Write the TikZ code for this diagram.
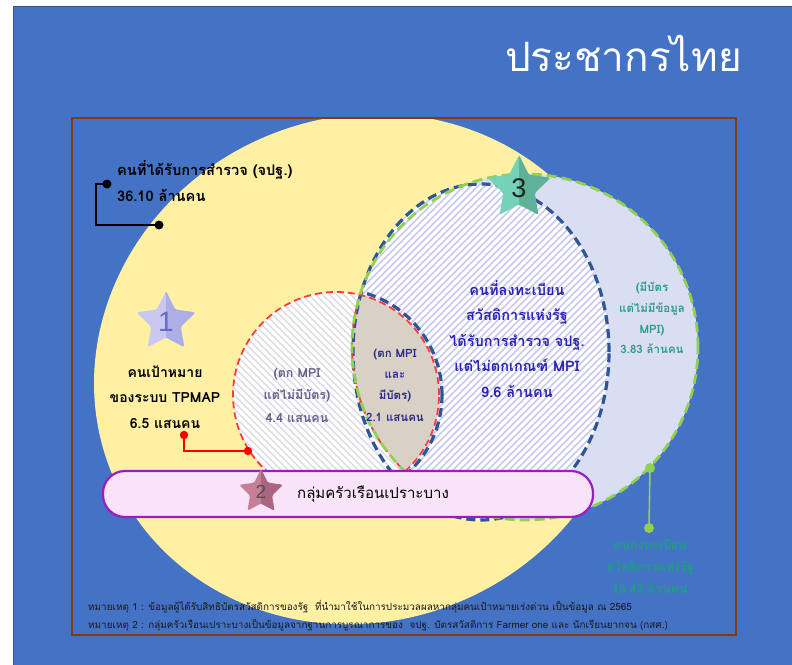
\documentclass[tikz,border=0pt]{standalone}
\usepackage{fontspec}
\newfontfamily\thai[Script=Thai]{Loma}
\newfontfamily\digitfont{Liberation Sans}
\usetikzlibrary{calc}
\definecolor{bgblue}{HTML}{4472C4}
\definecolor{bgborder}{HTML}{2F5597}
\definecolor{framec}{HTML}{843C0C}
\definecolor{yel}{HTML}{FFF0A4}
\definecolor{lav}{HTML}{D9DEF2}
\definecolor{stripeB}{HTML}{C7C9F0}
\definecolor{stripeR}{HTML}{D8D8E4}
\definecolor{lensc}{HTML}{D9D0C6}
\definecolor{bluedashc}{HTML}{2F5597}
\definecolor{reddashc}{HTML}{FF3B3B}
\definecolor{greendashc}{HTML}{92D050}
\definecolor{barborder}{HTML}{9C1BC2}
\definecolor{barfill}{HTML}{F8E3F8}
\definecolor{navytxt}{HTML}{2C22B5}
\definecolor{lenstxt}{HTML}{2B2B8A}
\definecolor{greytxt}{HTML}{62628A}
\definecolor{tealtxt}{HTML}{2E9C8C}
\definecolor{greentxt}{HTML}{1E9E82}
\definecolor{sonelight}{HTML}{C8C8F2}
\definecolor{sonedark}{HTML}{AEAEE6}
\definecolor{sthreelight}{HTML}{74D2B8}
\definecolor{sthreedark}{HTML}{5FB29A}
\definecolor{stwolight}{HTML}{C57F97}
\definecolor{stwodark}{HTML}{A9667E}
\tikzset{
  lbl/.style={font=\thai\bfseries\fontsize{14}{25.5}\selectfont, align=center, inner sep=0pt},
  smalllbl/.style={font=\thai\bfseries\fontsize{12}{21.5}\selectfont, align=center, inner sep=0pt},
  note/.style={font=\thai\fontsize{9.9}{12}\selectfont, anchor=west, inner sep=0pt, text=black!90},
  bluedash/.style={draw=bluedashc, line width=3.2pt, dash pattern=on 9pt off 5pt},
  reddash/.style={draw=reddashc, line width=1.8pt, dash pattern=on 7pt off 4pt},
  greendash/.style={draw=greendashc, line width=2.8pt, dash pattern=on 10pt off 5pt},
  stripeb/.style={draw=stripeB, line width=1.6pt},
  striper/.style={draw=stripeR, line width=1.4pt},
}
\newcommand\mystar[8]{%
  \begin{scope}[shift={(#1,#2)}]
    \fill[#4, rounded corners=1.5pt] (90:#3pt) -- (126:{#3*0.5pt}) -- (162:#3pt) -- (198:{#3*0.5pt}) -- (234:#3pt) -- (270:{#3*0.5pt}) -- (306:#3pt) -- (342:{#3*0.5pt}) -- (18:#3pt) -- (54:{#3*0.5pt}) -- cycle;
    \begin{scope}
      \clip[rounded corners=1.5pt] (90:#3pt) -- (126:{#3*0.5pt}) -- (162:#3pt) -- (198:{#3*0.5pt}) -- (234:#3pt) -- (270:{#3*0.5pt}) -- (306:#3pt) -- (342:{#3*0.5pt}) -- (18:#3pt) -- (54:{#3*0.5pt}) -- cycle;
      \fill[#5] (0pt,-#3pt) rectangle (#3pt,#3pt);
    \end{scope}
  \end{scope}
  \node[#7] (#8) at (#1,#2) {#6};
}
\begin{document}
\begin{tikzpicture}[x=1pt,y=-1pt]
\useasboundingbox (0,0) rectangle (792,664);
\fill[white] (0,0) rectangle (792,664);
\filldraw[fill=bgblue, draw=bgborder, line width=1.4pt] (13.5,6.5) rectangle (795,667);
% title
\node[font=\thai\fontsize{40.5}{46}\selectfont, text=white, inner sep=0pt] (title) at (623.5,53) {ประชากรไทย};
% yellow ellipse (clipped to frame)
\begin{scope}
  \clip (72,118) rectangle (736,635);
  \fill[yel, rotate around={23.5:(363,369)}] (363,369) ellipse [x radius=272pt, y radius=252pt];
\end{scope}
% frame
\draw[framec, line width=1.5pt] (72,118) rectangle (736,635);
% green circle fill
\fill[lav] (525,347) circle (173pt);
% blue ellipse hatched
\begin{scope}
  \clip (481,352) ellipse [x radius=128pt, y radius=168pt];
  \fill[white] (481,352) ellipse [x radius=128pt, y radius=168pt];
  \foreach \X in {-100,-93,...,700} \draw[stripeb] (\X,540) -- ++(400,-400);
\end{scope}
% red circle hatched
\begin{scope}
  \clip (336,395) circle (103pt);
  \fill[white] (336,395) circle (103pt);
  \foreach \X in {0,7,...,460} \draw[striper] (\X,280) -- ++(240,240);
\end{scope}
% lens
\begin{scope}
  \clip (336,395) circle (103pt);
  \fill[lensc] (525,347) circle (173pt);
\end{scope}
% outlines
\draw[bluedash] (481,352) ellipse [x radius=128pt, y radius=168pt];
\begin{scope}
  \clip (525,347) circle (173pt);
  \draw[bluedash] (336,395) circle (106pt);
\end{scope}
\draw[reddash] (336,395) circle (103pt);
\begin{scope}
  \clip (336,395) circle (104pt);
  \draw[reddash] (525,347) circle (173pt);
\end{scope}
\draw[greendash] (525,347) circle (173pt);
% bar
\node[draw=barborder, fill=barfill, line width=2.2pt, rounded corners=22pt, minimum width=490pt, minimum height=46pt, inner sep=0pt] (bar) at (348,494) {};
\node[font=\thai\fontsize{15}{18}\selectfont, inner sep=0pt] (bartxt) at (373,494) {กลุ่มครัวเรือนเปราะบาง};
% stars
\mystar{166}{322}{31}{sonelight}{sonedark}{1}{font=\digitfont\fontsize{28}{30}\selectfont, text={rgb,255:red,106;green,106;blue,196}, inner sep=0pt}{star1}
\mystar{519}{188}{33}{sthreelight}{sthreedark}{3}{font=\digitfont\fontsize{27}{30}\selectfont, text={rgb,255:red,34;green,34;blue,34}, inner sep=0pt}{star3}
\mystar{261}{492}{23}{stwolight}{stwodark}{2}{font=\digitfont\fontsize{19}{22}\selectfont, text={rgb,255:red,80;green,80;blue,80}, inner sep=0pt}{star2}
% top-left label
\node[lbl, align=left, anchor=west, text=black, font=\thai\bfseries\fontsize{14.6}{26.5}\selectfont] (survey) at (117,181) {คนที่ได้รับการสำรวจ (จปฐ.)\\36.10 ล้านคน};
\coordinate (bk1) at (107,184);
\coordinate (bkc) at (96,225);
\coordinate (bk2) at (159,225);
\draw[black, line width=1.3pt] (bk1) -| (bkc) -- (bk2);
\fill[black] (bk1) circle (4.5pt);
\fill[black] (bk2) circle (4.5pt);
% star 1 label
\node[lbl, text=black] (target) at (165,397) {คนเป้าหมาย\\ของระบบ TPMAP\\6.5 แสนคน};
\coordinate (rd1) at (184,435);
\coordinate (rd2) at (248,451);
\draw[red, line width=1.3pt] (rd1) |- (rd2);
\fill[red] (rd1) circle (4.2pt);
\fill[red] (rd2) circle (4.2pt);
% red circle label
\node[smalllbl, text=greytxt, font=\thai\bfseries\fontsize{12.5}{22.5}\selectfont] (mpinocard) at (297,395) {(ตก MPI\\แต่ไม่มีบัตร)\\4.4 แสนคน};
% lens label
\node[smalllbl, text=lenstxt, font=\thai\bfseries\fontsize{11.5}{21.3}\selectfont] (lenslbl) at (395,385) {(ตก MPI\\และ\\มีบัตร)\\2.1 แสนคน};
% blue label
\node[lbl, text=navytxt, font=\thai\bfseries\fontsize{14.5}{25.5}\selectfont] (bluelbl) at (517,339) {คนที่ลงทะเบียน\\สวัสดิการแห่งรัฐ\\ได้รับการสำรวจ จปฐ.\\แต่ไม่ตกเกณฑ์ MPI\\9.6 ล้านคน};
% right label
\node[smalllbl, text=tealtxt, font=\thai\bfseries\fontsize{11.5}{20.7}\selectfont] (rightlbl) at (652,318) {(มีบัตร\\แต่ไม่มีข้อมูล\\MPI)\\3.83 ล้านคน};
% bottom-right label
\coordinate (gd1) at (650,468);
\coordinate (gd2) at (649,528);
\draw[greendashc, line width=1.6pt] (gd1) -- (gd2);
\fill[greendashc] (gd1) circle (5pt);
\fill[greendashc] (gd2) circle (5pt);
\node[smalllbl, text=greentxt, font=\thai\bfseries\fontsize{12.5}{22}\selectfont] (reglbl) at (650,566) {คนลงทะเบียน\\สวัสดิการแห่งรัฐ\\13.43 ล้านคน};
% notes
\node[note] (note1) at (88,607) {หมายเหตุ 1 : ข้อมูลผู้ได้รับสิทธิบัตรสวัสดิการของรัฐ\ \ ที่นำมาใช้ในการประมวลผลหากลุ่มคนเป้าหมายเร่งด่วน เป็นข้อมูล ณ 2565};
\node[note] (note2) at (88,625) {หมายเหตุ 2 : กลุ่มครัวเรือนเปราะบางเป็นข้อมูลจากฐานการบูรณาการของ\ \ จปฐ. บัตรสวัสดิการ Farmer one และ นักเรียนยากจน (กสศ.)};
\end{tikzpicture}
\end{document}
